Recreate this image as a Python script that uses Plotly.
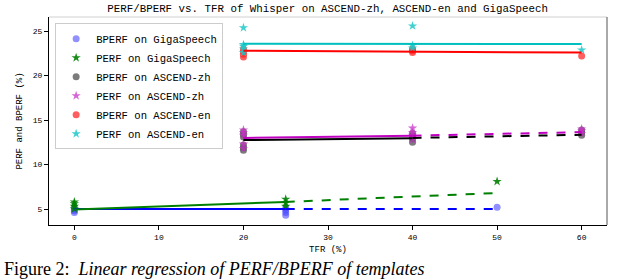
import plotly.graph_objects as go

# ---------------- data ----------------
giga_bperf_x = [0, 0, 0, 0, 25, 25, 25, 25, 50]
giga_bperf_y = [4.6, 4.8, 5.0, 5.2, 4.3, 4.6, 4.9, 5.1, 5.2]
giga_perf_x = [0, 0, 0, 0, 25, 25, 25, 50]
giga_perf_y = [5.0, 5.3, 5.6, 5.8, 5.3, 5.7, 6.1, 8.1]

zh_bperf_x = [20, 20, 20, 20, 20, 20, 40, 40, 40, 40, 60, 60, 60]
zh_bperf_y = [11.6, 11.9, 12.2, 13.1, 13.4, 13.7, 12.5, 12.9, 13.2, 13.5, 13.3, 13.6, 13.9]
zh_perf_x = [20, 20, 20, 20, 20, 40, 40, 40, 40, 60, 60, 60]
zh_perf_y = [11.8, 12.3, 13.3, 13.6, 13.9, 12.8, 13.3, 13.6, 14.1, 13.5, 13.8, 14.0]

en_bperf_x = [20, 20, 20, 20, 40, 40, 40, 60]
en_bperf_y = [22.1, 22.4, 22.7, 23.0, 22.6, 22.8, 23.0, 22.2]
en_perf_x = [20, 20, 20, 20, 20, 40, 40, 40, 60]
en_perf_y = [22.6, 23.0, 23.3, 23.5, 25.4, 23.1, 23.4, 25.6, 22.9]

# regression lines (fit part solid, extrapolation dashed)
giga_fit_x = [0, 25]
giga_ext_x = [25, 50]
giga_bperf_fit = [5.0, 5.0]
giga_bperf_ext = [5.0, 5.0]
giga_perf_fit = [4.95, 5.8]
giga_perf_ext = [5.8, 6.8]

zh_fit_x = [20, 40]
zh_ext_x = [40, 60]
zh_bperf_fit = [12.75, 12.95]
zh_bperf_ext = [13.0, 13.35]
zh_perf_fit = [13.0, 13.25]
zh_perf_ext = [13.25, 13.65]

en_fit_x = [20, 60]
en_bperf_fit = [22.8, 22.6]
en_perf_fit = [23.6, 23.55]

x_ticks = [0, 10, 20, 30, 40, 50, 60]
y_ticks = [5, 10, 15, 20, 25]

TITLE = "PERF/BPERF vs. TFR of Whisper on ASCEND-zh, ASCEND-en and GigaSpeech"
XLABEL = "TFR (%)"
YLABEL = "PERF and BPERF (%)"
CAPTION = "Figure 2:&nbsp;&nbsp;<i>Linear regression of PERF/BPERF of templates</i>"

FONT = "Liberation Mono"

fig = go.Figure()

series = [
    ("BPERF on GigaSpeech", giga_bperf_x, giga_bperf_y, "circle", "rgba(70,70,255,0.6)"),
    ("PERF on GigaSpeech", giga_perf_x, giga_perf_y, "star", "rgba(0,128,0,0.9)"),
    ("BPERF on ASCEND-zh", zh_bperf_x, zh_bperf_y, "circle", "rgba(80,80,80,0.75)"),
    ("PERF on ASCEND-zh", zh_perf_x, zh_perf_y, "star", "rgba(200,50,200,0.75)"),
    ("BPERF on ASCEND-en", en_bperf_x, en_bperf_y, "circle", "rgba(255,40,40,0.75)"),
    ("PERF on ASCEND-en", en_perf_x, en_perf_y, "star", "rgba(30,200,200,0.85)"),
]

lines = [
    (giga_fit_x, giga_bperf_fit, "blue", "solid"),
    (giga_ext_x, giga_bperf_ext, "blue", "dash"),
    (giga_fit_x, giga_perf_fit, "green", "solid"),
    (giga_ext_x, giga_perf_ext, "green", "dash"),
    (zh_fit_x, zh_bperf_fit, "black", "solid"),
    (zh_ext_x, zh_bperf_ext, "black", "dash"),
    (zh_fit_x, zh_perf_fit, "#c000c0", "solid"),
    (zh_ext_x, zh_perf_ext, "#c000c0", "dash"),
    (en_fit_x, en_perf_fit, "#00bfbf", "solid"),
    (en_fit_x, en_bperf_fit, "red", "solid"),
]

for name, xs, ys, sym, col in series:
    fig.add_trace(go.Scatter(
        x=xs, y=ys, mode="markers", name=name,
        marker=dict(symbol=sym, size=7, color=col, line=dict(width=0)),
    ))

for xs, ys, col, dash in lines:
    fig.add_trace(go.Scatter(
        x=xs, y=ys, mode="lines", showlegend=False,
        line=dict(color=col, width=2, dash=dash),
    ))

axis_common = dict(
    showgrid=False, zeroline=False, showline=True, linecolor="black", linewidth=1,
    ticks="outside", ticklen=4, tickwidth=1, tickcolor="black",
    tickfont=dict(family=FONT, size=8, color="black"),
)

fig.update_layout(
    width=630, height=280,
    margin=dict(l=49, r=23, t=17, b=55),
    paper_bgcolor="white", plot_bgcolor="white",
    font=dict(family=FONT, size=11, color="black"),
    title=dict(text=TITLE, x=0.52, xanchor="center", y=0.97, yanchor="middle",
               font=dict(family=FONT, size=10.8, color="black")),
    xaxis=dict(range=[-3, 63], tickvals=x_ticks, title=dict(text=XLABEL, standoff=5,
               font=dict(family=FONT, size=9)), **axis_common),
    yaxis=dict(range=[3.2, 26.6], tickvals=y_ticks, title=dict(text=YLABEL, standoff=8,
               font=dict(family=FONT, size=9)), **axis_common),
    legend=dict(x=0.011, y=0.97, xanchor="left", yanchor="top",
                bgcolor="white", bordercolor="#cccccc", borderwidth=1,
                font=dict(family=FONT, size=10.6, color="black"),
                tracegroupgap=0),
    showlegend=True,
)

# top & right spines (light gray / gray)
fig.add_shape(type="line", xref="paper", yref="paper", x0=0, x1=1, y0=1, y1=1,
              line=dict(color="#d0d0d0", width=1))
fig.add_shape(type="line", xref="paper", yref="paper", x0=1, x1=1, y0=0, y1=1,
              line=dict(color="#555555", width=1))

fig.add_annotation(text=CAPTION, xref="paper", yref="paper", x=-0.083, y=-0.2644,
                   xanchor="left", yanchor="bottom", showarrow=False, borderpad=0,
                   font=dict(family="Liberation Serif", size=18, color="black"))

fig.write_html("out.html", config={"displayModeBar": False},
               post_script="document.body.style.margin='0';")
